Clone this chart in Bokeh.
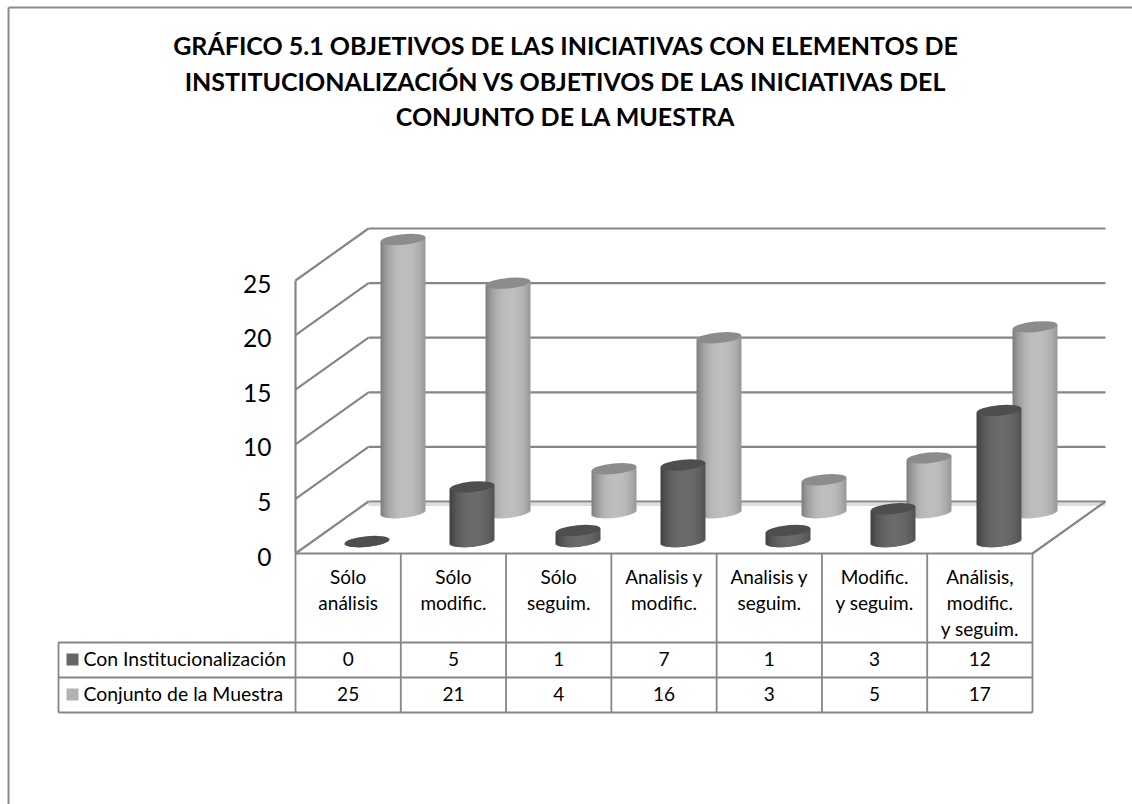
from bokeh.plotting import figure
from bokeh.models import Range1d, ColumnDataSource
from bokeh.core.properties import value
from bokeh.embed import file_html
from bokeh.resources import INLINE
import math

title_lines = ["GRÁFICO 5.1 OBJETIVOS DE LAS INICIATIVAS CON ELEMENTOS DE",
               "INSTITUCIONALIZACIÓN VS OBJETIVOS DE LAS INICIATIVAS DEL",
               "CONJUNTO DE LA MUESTRA"]
categories = ["Sólo\nanálisis", "Sólo\nmodific.", "Sólo\nseguim.", "Analisis y\nmodific.",
              "Analisis y\nseguim.", "Modific.\ny seguim.", "Análisis,\nmodific.\ny seguim."]
series_names = ["Con Institucionalización", "Conjunto de la Muestra"]
con_inst = [0, 5, 1, 7, 1, 3, 12]
conjunto = [25, 21, 4, 16, 3, 5, 17]
y_ticks = [0, 5, 10, 15, 20, 25]

FONT = "Lato"
W, H = 1132, 804
UNIT = 10.92          # px per value unit
Y_BASE = 541.0        # page y of value 0 for the front row
to_val = lambda px: (Y_BASE - px) / UNIT  # page px offset -> value units

p = figure(width=W, height=H, output_backend="svg", toolbar_location=None,
           x_range=Range1d(0, W), y_range=Range1d(H, 0),
           min_border=0, outline_line_color=None, background_fill_color="white")
p.axis.visible = False
p.grid.visible = False
p.extra_y_ranges = {"val": Range1d(to_val(H), to_val(0))}

GRID = "#868686"
X0, X1 = 295.0, 1032.0
DX, DY = 73.0, 52.0       # depth offset of the back wall
FRONT0 = to_val(553)      # value coordinate of the front wall's zero
CELL = (X1 - X0) / len(categories)

# outer frame: only the left and top edges are in view
p.multi_line([[8, 8], [8, W]], [[H, 7], [7, 7]], line_color="#8a8a8a", line_width=2)

# walls and floor
back_y = [FRONT0 + t + DY / UNIT for t in y_ticks]
front_y = [FRONT0 + t for t in y_ticks]
p.line([X0 + DX, X1 + DX], [back_y[0] - 3 / UNIT] * 2, line_color="#dddddd", line_width=3, y_range_name="val")
p.multi_line([[X0, X0 + DX] for _ in y_ticks], [[a, b] for a, b in zip(front_y, back_y)],
             line_color=GRID, line_width=2.2, y_range_name="val")
p.multi_line([[X0 + DX, X1 + DX] for _ in y_ticks], [[b, b] for b in back_y],
             line_color=GRID, line_width=2.2, y_range_name="val")
p.line([X1 + DX, X1, X0], [back_y[0], front_y[0], front_y[0]], line_color=GRID, line_width=2.2, y_range_name="val")
p.line([X0, X0], [front_y[0], front_y[-1]], line_color=GRID, line_width=2.2, y_range_name="val")


def mix(c1, c2, t):
    return "#%02x%02x%02x" % tuple(round(a + (b - a) * t) for a, b in zip(c1, c2))


TILT = math.radians(5.5)
A, B = 22.5, 5.3
STRIPS = 45
OVERLAP = 1.5


def cylinders(values, x_start, base_off, edge, mid, cap):
    L, R, T, Bt, C = [], [], [], [], []
    xs, ys = [], []
    # outer strips first, each reaching inwards under the next one, so that no background shows between them
    order = sorted(range(STRIPS), key=lambda s: -abs(s - (STRIPS - 1) / 2))
    for i, v in enumerate(values):
        cx = round(x_start + i * CELL) + 0.5
        for s in order:
            u0 = -1 + 2 * s / STRIPS
            u1 = -1 + 2 * (s + 1) / STRIPS
            um = (u0 + u1) / 2
            sh = 1 - (abs(um - 0.1) / 1.1) ** 2.4
            slope = um * A * math.tan(TILT)
            curve = B * math.sqrt(max(0, 1 - um * um))
            L.append(cx + u0 * A - (OVERLAP if um > 0 else 0))
            R.append(cx + u1 * A + (OVERLAP if um < 0 else 0))
            T.append(v + base_off + slope / UNIT)
            Bt.append(base_off + (slope - curve) / UNIT)
            C.append(mix(edge, mid, max(0, sh)))
        xs.append(cx)
        ys.append(v + base_off)
    src = ColumnDataSource(dict(left=L, right=R, top=T, bottom=Bt, color=C))
    p.quad(left="left", right="right", top="top", bottom="bottom", source=src, fill_color="color",
           fill_alpha=1.0, line_color=None, y_range_name="val")
    p.ellipse(x=xs, y=ys, width=2 * A, height=2 * B, height_units="screen", angle=TILT,
              fill_color=cap, fill_alpha=1.0, line_color=None, y_range_name="val")


X_FRONT = 366.0
cylinders(conjunto, X_FRONT + 36.0, to_val(512), (0x7c, 0x7c, 0x7c), (0xbe, 0xbe, 0xbe), "#8c8c8c")
cylinders(con_inst, X_FRONT, 0.0, (0x40, 0x40, 0x40), (0x6a, 0x6a, 0x6a), "#4e4e4e")

# tick labels
p.text(x=[271] * len(y_ticks), y=[t + to_val(556) for t in y_ticks], text=[str(t) for t in y_ticks],
       text_font=value(FONT), text_font_size="24.5px", text_align="right", text_baseline="middle",
       text_color="#000000", y_range_name="val")

# table
ROW0, ROW1, ROW2 = 642.0, 677.0, 712.0
LEFT = 58.0
vx = [X0 + i * CELL for i in range(len(categories) + 1)]
p.multi_line([[x, x] for x in vx], [[553, ROW2] for _ in vx], line_color=GRID, line_width=1.8)
p.multi_line([[LEFT, X1]] * 3, [[ROW0, ROW0], [ROW1, ROW1], [ROW2, ROW2]], line_color=GRID, line_width=1.8)
p.line([LEFT, LEFT], [ROW0, ROW2], line_color=GRID, line_width=1.8)

tx, ty, tt = [], [], []
for i, c in enumerate(categories):
    for j, line in enumerate(c.split("\n")):
        tx.append(X0 + (i + 0.5) * CELL)
        ty.append(576 + j * 26)
        tt.append(line)
for row_y, vals in ((658, con_inst), (693, conjunto)):
    for i, v in enumerate(vals):
        tx.append(X0 + (i + 0.5) * CELL)
        ty.append(row_y)
        tt.append(str(v))
p.text(x=tx, y=ty, text=tt, text_font=value(FONT), text_font_size="19px", text_align="center",
       text_baseline="middle", text_color="#000000")

p.quad(left=[66, 66], right=[78, 78], top=[653, 688], bottom=[665, 700],
       fill_color=["#666666", "#b2b2b2"], fill_alpha=1.0, line_color=None)
p.text(x=[83, 83], y=[658, 693], text=series_names, text_font=value(FONT), text_font_size="19.4px",
       text_align="left", text_baseline="middle", text_color="#000000")

# title
p.text(x=[565] * 3, y=[44.5, 80.5, 115.5], text=title_lines, text_font=value(FONT), text_font_size="25px",
       text_font_style="bold", text_align="center", text_baseline="middle", text_color="#000000")

open("out.html", "w").write(file_html(p, INLINE))
